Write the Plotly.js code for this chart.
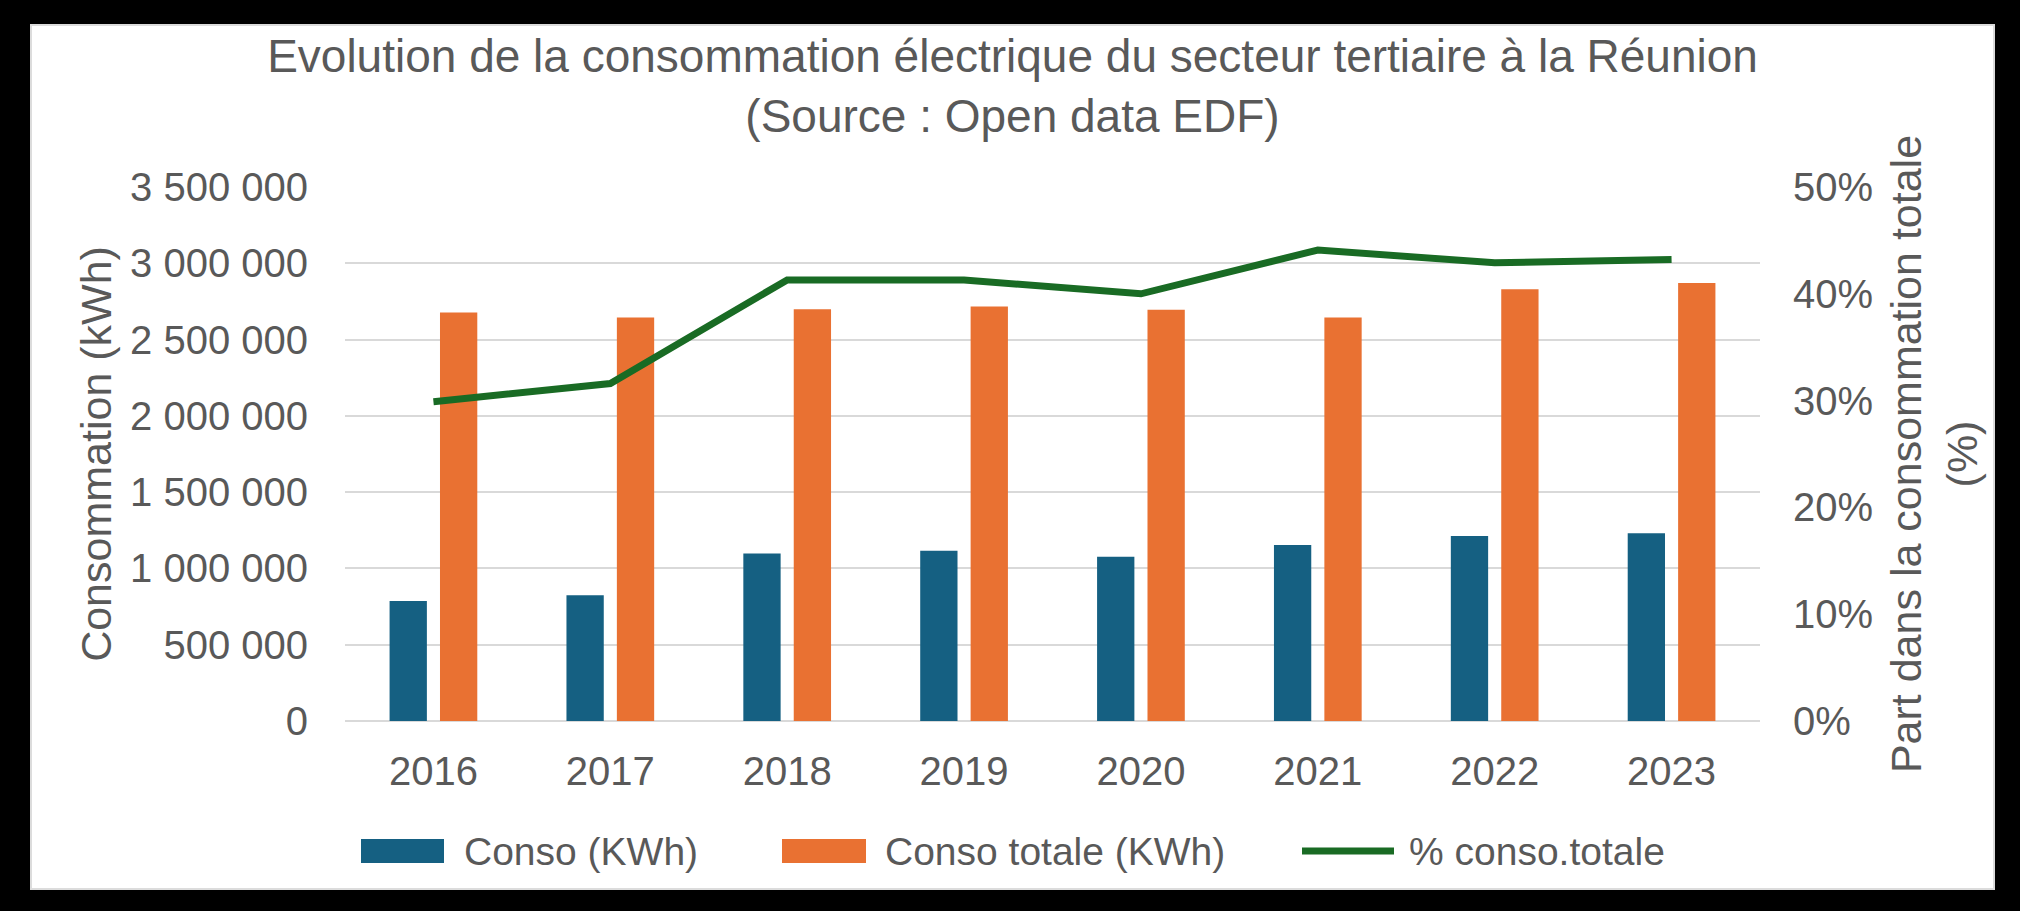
<!DOCTYPE html>
<html>
<head>
<meta charset="utf-8">
<script src="https://cdn.plot.ly/plotly-3.0.1.min.js"></script>
<style>
  html, body { margin: 0; padding: 0; background: #000; width: 2020px; height: 911px; overflow: hidden; }
  #chart { position: absolute; left: 30px; top: 24px; width: 1965px; height: 866px; background: #fff; outline: 2px solid #dcdcdc; outline-offset: -2px; }
</style>
</head>
<body>
<div id="chart"></div>
<script>
// ---- data ----
var years = ['2016', '2017', '2018', '2019', '2020', '2021', '2022', '2023'];
var conso = [787000, 825000, 1098000, 1116000, 1076000, 1153000, 1212000, 1230000];
var consoTotale = [2677000, 2645000, 2699000, 2717000, 2695000, 2645000, 2830000, 2870000];
var pctConsoTotale = [29.9, 31.6, 41.3, 41.3, 40.0, 44.1, 42.9, 43.2];

var leftTickVals = [0, 500000, 1000000, 1500000, 2000000, 2500000, 3000000, 3500000];
var leftTickText = ['0', '500 000', '1 000 000', '1 500 000', '2 000 000', '2 500 000', '3 000 000', '3 500 000'];
var rightTickVals = [0, 10, 20, 30, 40, 50];
var rightTickText = ['0%', '10%', '20%', '30%', '40%', '50%'];

var seriesNames = ['Conso (KWh)', 'Conso totale (KWh)', '% conso.totale'];
var colors = ['#156082', '#E97132', '#196B24'];

var FONT = '"Liberation Sans", Arial, sans-serif';
var GREY = '#595959';

// ---- geometry of the figure (pixels inside the chart div) ----
var W = 1965, H = 866;
var M = { l: 315, r: 235, t: 163, b: 169 };
var PW = W - M.l - M.r, PH = H - M.t - M.b;
function px2x(px) { return (px - M.l) / PW; }
function py2y(py) { return (H - M.b - py) / PH; }

var traces = [
  { type: 'bar', x: years, y: conso, name: seriesNames[0], marker: { color: colors[0] }, showlegend: false },
  { type: 'bar', x: years, y: consoTotale, name: seriesNames[1], marker: { color: colors[1] }, showlegend: false },
  { type: 'scatter', mode: 'lines', x: years, y: pctConsoTotale, name: seriesNames[2], yaxis: 'y2',
    line: { color: colors[2], width: 7 }, showlegend: false }
];

// ---- legend drawn like the original (wide swatches) ----
var legendY = 827;
var legendItems = [
  { kind: 'rect', x0: 331, x1: 414, tx: 432 },
  { kind: 'rect', x0: 752, x1: 836, tx: 853 },
  { kind: 'line', x0: 1272, x1: 1364, tx: 1377 }
];
var shapes = [];
var annotations = [];
legendItems.forEach(function (it, i) {
  if (it.kind === 'rect') {
    shapes.push({ type: 'rect', xref: 'paper', yref: 'paper',
      x0: px2x(it.x0), x1: px2x(it.x1), y0: py2y(legendY + 12), y1: py2y(legendY - 12),
      fillcolor: colors[i], line: { width: 0 } });
  } else {
    shapes.push({ type: 'line', xref: 'paper', yref: 'paper',
      x0: px2x(it.x0), x1: px2x(it.x1), y0: py2y(legendY), y1: py2y(legendY),
      line: { color: colors[i], width: 7 } });
  }
  annotations.push({ xref: 'paper', yref: 'paper', x: px2x(it.tx), y: py2y(legendY),
    xanchor: 'left', yanchor: 'middle', showarrow: false, text: seriesNames[i],
    font: { family: FONT, size: 39, color: GREY } });
});

var layout = {
  width: W, height: H,
  paper_bgcolor: 'rgba(0,0,0,0)', plot_bgcolor: '#fff',
  margin: { l: M.l, r: M.r, t: M.t, b: M.b, pad: 0 },
  font: { family: FONT, color: GREY, size: 40 },
  title: {
    text: 'Evolution de la consommation électrique du secteur tertiaire à la Réunion<br>(Source : Open data EDF)',
    font: { family: FONT, size: 46, color: GREY },
    x: 0.5, xanchor: 'center', xref: 'container',
    y: 0.944, yanchor: 'middle', yref: 'container'
  },
  barmode: 'group', bargap: 0.43, bargroupgap: 0.26,
  xaxis: {
    type: 'category', showgrid: false, showline: false, zeroline: false,
    ticks: '', ticklabelstandoff: 23,
    tickfont: { family: FONT, size: 40, color: GREY }
  },
  yaxis: {
    range: [0, 3500000], tickvals: leftTickVals, ticktext: leftTickText,
    showgrid: true, gridcolor: '#d9d9d9', gridwidth: 2,
    zeroline: true, zerolinecolor: '#d9d9d9', zerolinewidth: 2,
    showline: false, ticks: '', ticklabelstandoff: 36,
    tickfont: { family: FONT, size: 40, color: GREY },
    title: { text: 'Consommation (kWh)', font: { family: FONT, size: 43, color: GREY }, standoff: 4 }
  },
  yaxis2: {
    overlaying: 'y', side: 'right', range: [0, 50],
    tickvals: rightTickVals, ticktext: rightTickText,
    showgrid: false, zeroline: false, showline: false, ticks: '', ticklabelstandoff: 32,
    tickfont: { family: FONT, size: 40, color: GREY },
    title: { text: 'Part dans la consommation totale<br>(%)', font: { family: FONT, size: 43, color: GREY }, standoff: 18 }
  },
  showlegend: false,
  shapes: shapes,
  annotations: annotations
};

Plotly.newPlot('chart', traces, layout, { displayModeBar: false, responsive: false });
</script>
</body>
</html>
